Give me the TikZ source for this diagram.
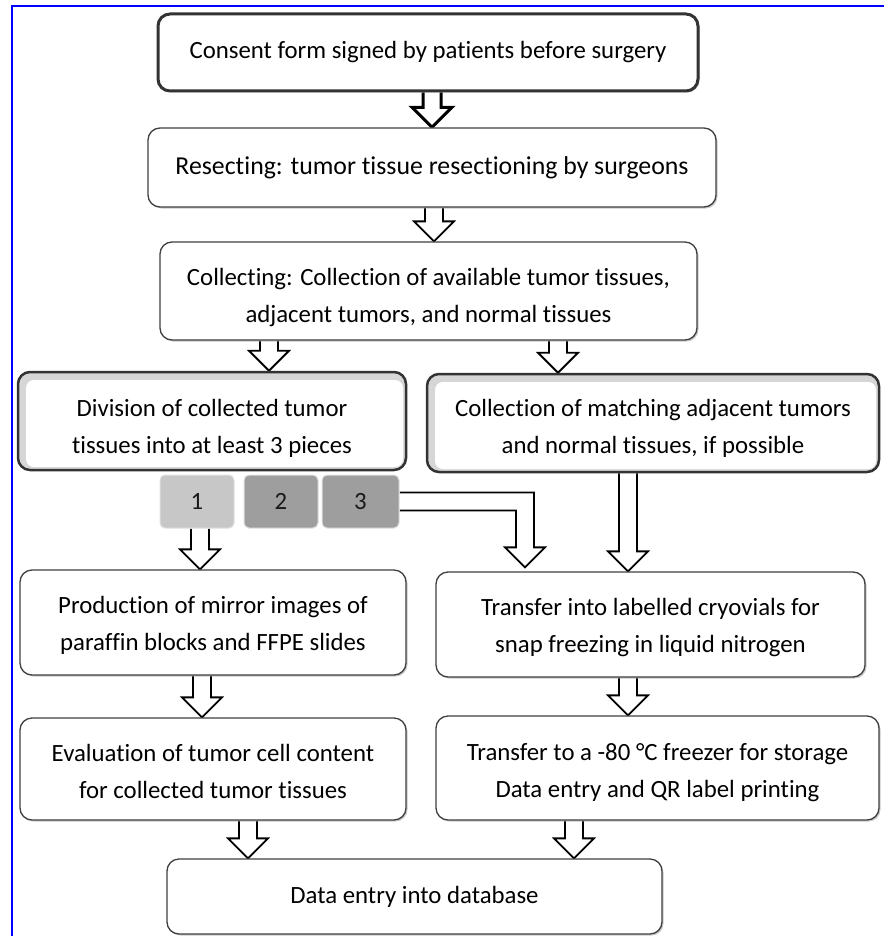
\documentclass[tikz,border=0pt]{standalone}
\usepackage{fontspec}
\setmainfont{Carlito}[Ligatures=NoCommon]
\usetikzlibrary{calc,shadows}
\pgfdeclarelayer{bg}
\pgfsetlayers{bg,main}
\newcommand\padtop[1]{\rule{0pt}{#1}}
\tikzset{
  box/.style={draw=black!75, line width=1.3pt, rounded corners=12pt, fill=white,
    align=center, inner sep=0pt, font=\fontsize{24.8}{37}\selectfont,
    drop shadow={shadow xshift=1.5pt, shadow yshift=-1.5pt, fill=black!35, opacity=0.6}},
  thickbox/.style={box, line width=3pt, draw=black!80},
  glowbox/.style={draw=black!80, line width=2.5pt, rounded corners=12pt, fill=black!16,
    align=center, inner sep=0pt, font=\fontsize{24.8}{37}\selectfont,
    path picture={\fill[white, rounded corners=8pt]
      ([xshift=8pt,yshift=-8pt]path picture bounding box.north west) rectangle
      ([xshift=-3pt,yshift=3pt]path picture bounding box.south east);}},
  piece/.style={rounded corners=5pt, draw=black!12, line width=1pt, inner sep=0pt,
    minimum height=53pt, font=\fontsize{24.8}{28}\selectfont, text=black!90},
  barrowstyle/.style={draw=black, fill=white, line width=1.8pt, line join=miter},
}
% block arrow: #2 = x centre, #3 = from node, #4 = to node
\newcommand\barrow[4][]{%
  \draw[barrowstyle,#1] let \p1=(#3.south), \p2=(#4.north) in
    (#2pt-9pt,\y1) -- (#2pt-9pt,\y2+20pt) -- (#2pt-20pt,\y2+20pt) -- (#2pt,\y2)
    -- (#2pt+20pt,\y2+20pt) -- (#2pt+9pt,\y2+20pt) -- (#2pt+9pt,\y1);}
\begin{document}
\begin{tikzpicture}[x=1pt,y=-1pt]
\useasboundingbox (0,0) rectangle (884,936);
\begin{pgfonlayer}{bg}
\fill[white] (0,0) rectangle (884,936);
\end{pgfonlayer}
\draw[blue, line width=2.5pt] (12,936) -- (12,6) -- (884,6);

\node[thickbox, minimum width=540pt, minimum height=77pt] (consent) at (428,52.5)
  {Consent form signed by patients before surgery};
\node[box, minimum width=568pt, minimum height=79pt, font=\fontsize{25.8}{37}\selectfont] (resect) at (432,167.5)
  {Resecting: tumor tissue resectioning by surgeons};
\node[box, minimum width=537pt, minimum height=98pt] (collect) at (428.5,291)
  {\padtop{30pt}Collecting: Collection of available tumor tissues,\\ adjacent tumors, and normal tissues};
\node[glowbox, minimum width=388pt, minimum height=98pt] (division) at (212,421)
  {\padtop{32pt}Division of collected tumor\\ tissues into at least 3 pieces};
\node[glowbox, minimum width=452pt, minimum height=98pt] (matching) at (653,423)
  {\padtop{28pt}Collection of matching adjacent tumors\\ and normal tissues, if possible};
\node[piece, fill=black!22, minimum width=74pt] (p1) at (197,501.5) {1};
\node[piece, fill=black!38, minimum width=74pt] (p2) at (281,501.5) {2};
\node[piece, fill=black!38, minimum width=77pt] (p3) at (360.5,501.5) {3};
\node[box, minimum width=386pt, minimum height=105pt] (production) at (213,622.5)
  {\padtop{22pt}Production of mirror images of\\ paraffin blocks and FFPE slides};
\node[box, minimum width=429pt, minimum height=105pt] (transfer) at (650.5,624.5)
  {\padtop{24pt}Transfer into labelled cryovials for\\ snap freezing in liquid nitrogen};
\node[box, minimum width=386pt, minimum height=102pt] (evaluation) at (213,769)
  {\padtop{22pt}Evaluation of tumor cell content\\ for collected tumor tissues};
\node[box, minimum width=443pt, minimum height=104pt] (freezer) at (657.5,768)
  {\padtop{26pt}Transfer to a -80 °C freezer for storage\\ Data entry and QR label printing};
\node[box, minimum width=495pt, minimum height=75pt] (data) at (414.5,896.5)
  {Data entry into database};

\begin{pgfonlayer}{bg}
\barrow[line width=3pt]{432}{consent}{resect}
\barrow{434}{resect}{collect}
\barrow{269}{collect}{division}
\barrow{558}{collect}{matching}
\barrow{200}{p1}{production}
\barrow{628}{matching}{transfer}
\barrow{202}{production}{evaluation}
\barrow{628}{transfer}{freezer}
\barrow{248}{evaluation}{data}
\barrow{574}{freezer}{data}
\draw[barrowstyle] let \p1=(p3.east), \p2=(transfer.north) in
  (\x1,\y1+9pt) -- (534pt,\y1+9pt) -- (534pt,\y2+24pt) -- (545pt,\y2+24pt)
  -- (525pt,\y2+4pt) -- (505pt,\y2+24pt) -- (516pt,\y2+24pt) -- (516pt,\y1-9pt) -- (\x1,\y1-9pt);
\end{pgfonlayer}
\end{tikzpicture}
\end{document}
